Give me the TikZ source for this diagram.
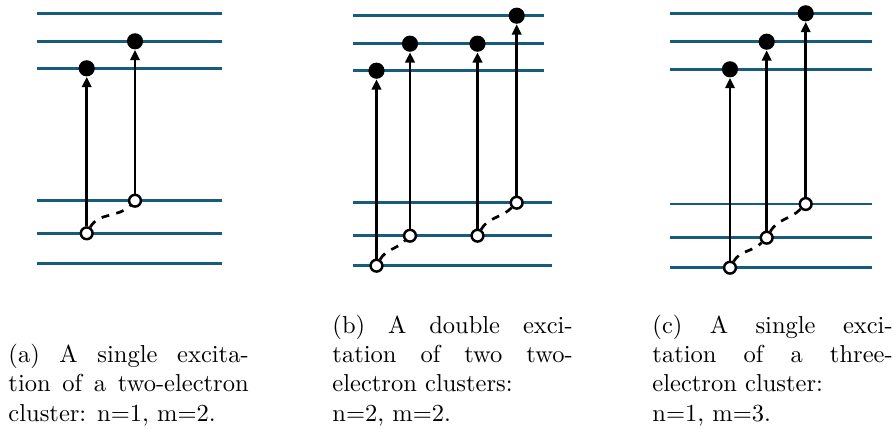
\documentclass[tikz,border=0pt]{standalone}
\usetikzlibrary{arrows.meta}
\definecolor{LevelBlue}{RGB}{24,92,124}
\tolerance=9999
\hbadness=10000
\tikzset{
  level/.style={draw=LevelBlue,line width=1.1pt},
  hole/.style={circle,draw=black,fill=white,line width=1pt,
    inner sep=0pt,minimum size=4.8pt},
  electron/.style={circle,fill=black,inner sep=0pt,minimum size=6.6pt},
  excite/.style={-{Triangle[length=4.2pt,width=3.8pt]},line width=1.15pt},
  pairing/.style={line width=1.1pt,dash pattern=on 3.2pt off 3pt},
  caption/.style={text width=98pt,align=justify,inner sep=0pt,anchor=south west}
}

\begin{document}
\begin{tikzpicture}[x=0.408pt,y=-0.408pt]
  \useasboundingbox (0,0) rectangle (896,429);
  % (a) two-electron cluster
  \foreach \y in {13.3,41.3,68.3,200.7,233.3,263.3}
    \draw[level] (36.7,\y) -- (221.7,\y);
  \node[hole] (a1h) at (86.7,233.3) {};
  \node[hole] (a2h) at (135,200.7) {};
  \node[electron] (a1e) at (86.7,68.3) {};
  \node[electron] (a2e) at (135,41.3) {};
  \draw[excite] (a1h) -- (a1e);
  \draw[excite] (a2h) -- (a2e);
  \draw[pairing] (a1h) to[out=60,in=225] (a2h);
  % (b) two two-electron clusters
  \foreach \y in {15.7,43.7,70.7}
    \draw[level] (353.3,\y) -- (544.3,\y);
  \foreach \y in {202.7,235.7,265.7}
    \draw[level] (353.3,\y) -- (552.3,\y);
  \node[hole] (b1h) at (376.5,265.7) {};
  \node[hole] (b2h) at (410,235.7) {};
  \node[hole] (b3h) at (477.5,235.7) {};
  \node[hole] (b4h) at (516.7,202.7) {};
  \node[electron] (b1e) at (376.5,70.7) {};
  \node[electron] (b2e) at (410,43.7) {};
  \node[electron] (b3e) at (477.5,43.7) {};
  \node[electron] (b4e) at (516.7,15.7) {};
  \foreach \i in {1,...,4}
    \draw[excite] (b\i h) -- (b\i e);
  \draw[pairing] (b1h) to[out=60,in=225] (b2h);
  \draw[pairing] (b3h) to[out=60,in=225] (b4h);
  % (c) three-electron cluster
  \foreach \y in {13.3,41.7,69.3,204,237.7,267.7}
    \draw[level] (670,\y) -- (872,\y);
  \node[hole] (c1h) at (730,267.7) {};
  \node[hole] (c2h) at (766.7,237.7) {};
  \node[hole] (c3h) at (805.7,204) {};
  \node[electron] (c1e) at (730,69.3) {};
  \node[electron] (c2e) at (766.7,41.7) {};
  \node[electron] (c3e) at (805.7,13.3) {};
  \foreach \i in {1,2,3}
    \draw[excite] (c\i h) -- (c\i e);
  \draw[pairing] (c1h) to[out=60,in=225] (c2h);
  \draw[pairing] (c2h) to[out=60,in=225] (c3h);
  % captions
  \node[caption] (capa) at (8,426.5) {(a) A single excita-\linebreak
    tion of a two-electron\linebreak cluster: n=1, m=2.};
  \node[caption] (capb) at (332,426.5) {(b) A double exci-\linebreak
    tation of two two-\linebreak electron clusters:\newline n=2, m=2.};
  \node[caption] (capc) at (652,426.5) {(c) A single exci-\linebreak
    tation of a three-\linebreak electron cluster:\newline n=1, m=3.};
\end{tikzpicture}
\end{document}
